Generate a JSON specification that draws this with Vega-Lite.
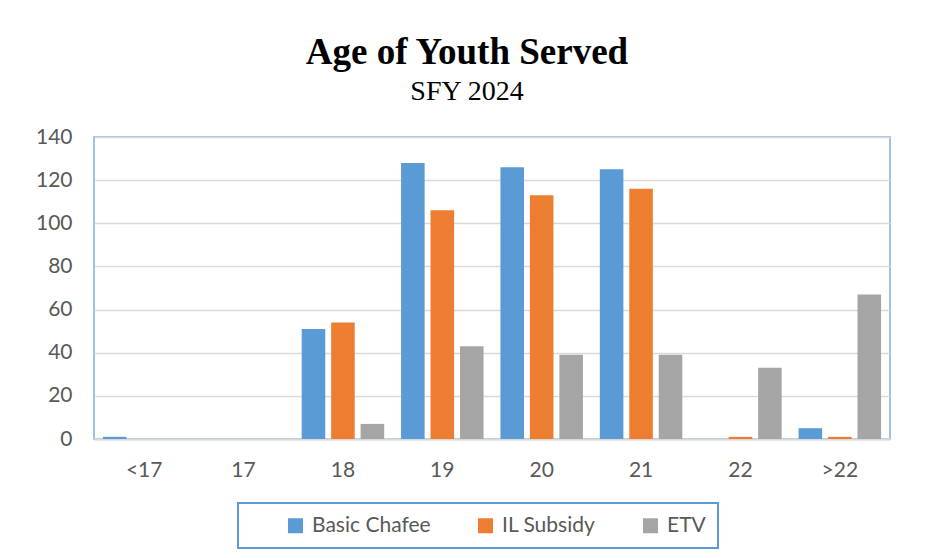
{
  "$schema": "https://vega.github.io/schema/vega-lite/v6.json",
  "width": 796,
  "height": 302,
  "autosize": "none",
  "padding": {"left": 94, "top": 137, "right": 35, "bottom": 119},
  "background": "white",
  "title": {
    "text": "Age of Youth Served",
    "subtitle": "SFY 2024",
    "font": "Liberation Serif",
    "fontSize": 37,
    "fontWeight": "bold",
    "color": "black",
    "subtitleFont": "Liberation Serif",
    "subtitleFontSize": 28,
    "subtitleColor": "black",
    "subtitlePadding": 6,
    "anchor": "middle",
    "dx": -25,
    "offset": 19
  },
  "data": {
    "values": [
      {"age": "<17", "program": "Basic Chafee", "count": 1},
      {"age": "<17", "program": "IL Subsidy", "count": 0},
      {"age": "<17", "program": "ETV", "count": 0},
      {"age": "17", "program": "Basic Chafee", "count": 0},
      {"age": "17", "program": "IL Subsidy", "count": 0},
      {"age": "17", "program": "ETV", "count": 0},
      {"age": "18", "program": "Basic Chafee", "count": 51},
      {"age": "18", "program": "IL Subsidy", "count": 54},
      {"age": "18", "program": "ETV", "count": 7},
      {"age": "19", "program": "Basic Chafee", "count": 128},
      {"age": "19", "program": "IL Subsidy", "count": 106},
      {"age": "19", "program": "ETV", "count": 43},
      {"age": "20", "program": "Basic Chafee", "count": 126},
      {"age": "20", "program": "IL Subsidy", "count": 113},
      {"age": "20", "program": "ETV", "count": 39},
      {"age": "21", "program": "Basic Chafee", "count": 125},
      {"age": "21", "program": "IL Subsidy", "count": 116},
      {"age": "21", "program": "ETV", "count": 39},
      {"age": "22", "program": "Basic Chafee", "count": 0},
      {"age": "22", "program": "IL Subsidy", "count": 1},
      {"age": "22", "program": "ETV", "count": 33},
      {"age": ">22", "program": "Basic Chafee", "count": 5},
      {"age": ">22", "program": "IL Subsidy", "count": 1},
      {"age": ">22", "program": "ETV", "count": 67}
    ]
  },
  "mark": {"type": "bar"},
  "encoding": {
    "x": {
      "field": "age",
      "type": "nominal",
      "sort": ["<17", "17", "18", "19", "20", "21", "22", ">22"],
      "scale": {"paddingInner": 0.17, "paddingOuter": 0.09},
      "axis": {
        "title": null,
        "labelAngle": 0,
        "labelFont": "Lato",
        "labelFontSize": 21,
        "labelColor": "#595959",
        "labelPadding": 20,
        "ticks": false,
        "domainColor": "#d9d9d9",
        "domainWidth": 2,
        "grid": false
      }
    },
    "xOffset": {
      "field": "program",
      "type": "nominal",
      "sort": ["Basic Chafee", "IL Subsidy", "ETV"],
      "scale": {"paddingInner": 0.2}
    },
    "y": {
      "field": "count",
      "type": "quantitative",
      "scale": {"domain": [0, 140]},
      "axis": {
        "title": null,
        "values": [0, 20, 40, 60, 80, 100, 120, 140],
        "labelFont": "Lato",
        "labelFontSize": 21,
        "labelColor": "#595959",
        "labelPadding": 22,
        "ticks": false,
        "domain": false,
        "gridColor": "#d9d9d9",
        "gridWidth": 1.5
      }
    },
    "color": {
      "field": "program",
      "type": "nominal",
      "sort": ["Basic Chafee", "IL Subsidy", "ETV"],
      "scale": {
        "domain": ["Basic Chafee", "IL Subsidy", "ETV"],
        "range": ["#5B9BD5", "#ED7D31", "#A5A5A5"]
      },
      "legend": {
        "title": null,
        "orient": "none",
        "direction": "horizontal",
        "legendX": 144,
        "legendY": 366,
        "symbolType": "square",
        "symbolSize": 225,
        "symbolStrokeWidth": 0,
        "symbolOffset": 35,
        "labelFont": "Lato",
        "labelFontSize": 21,
        "labelColor": "#595959",
        "labelOffset": 6,
        "columnPadding": 9,
        "padding": 12,
        "strokeColor": "#5B9BD5"
      }
    }
  },
  "config": {
    "view": {"stroke": "#9DC3E6", "strokeWidth": 2},
    "legend": {"strokeWidth": 2}
  }
}
